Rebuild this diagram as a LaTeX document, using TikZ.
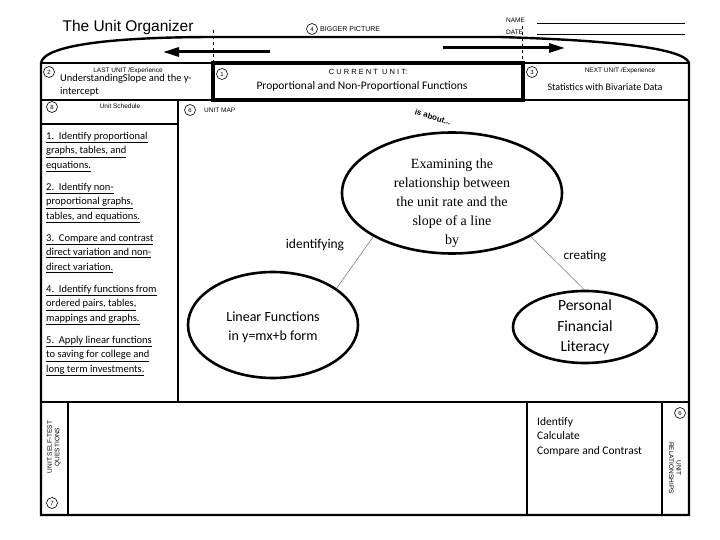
\documentclass[tikz,border=0pt]{standalone}
\usepackage{fontspec}
\setmainfont{Carlito}
\newfontfamily\arialfont{Liberation Sans}
\newfontfamily\serifface{Liberation Serif}
\usetikzlibrary{shapes.geometric,arrows.meta}

\tikzset{
  frame/.style={line width=2.4pt},
  numcirc/.style={circle, draw, line width=0.6pt, inner sep=0pt, minimum size=11pt,
    font=\arialfont\fontsize{6}{6}\selectfont},
  tiny/.style={inner sep=0pt, font=\arialfont\fontsize{6.5}{7.5}\selectfont},
  bubble/.style={ellipse, draw, line width=2.6pt, inner sep=0pt},
  link/.style={draw=black!55, line width=0.5pt},
  bigarrow/.style={line width=3pt, -{Triangle[length=16pt,width=9pt]}}
}

\begin{document}
\begin{tikzpicture}[x=1pt,y=-1pt]
\useasboundingbox (0,0) rectangle (720,540);

% header
\node[font=\arialfont\fontsize{15.5}{18}\selectfont] (title) at (128,27) {The Unit Organizer};
\node[numcirc] (n4) at (312,29) {4};
\node[tiny, anchor=west, font=\arialfont\fontsize{7}{8}\selectfont] (bigger) at (320,29) {BIGGER PICTURE};
\node[tiny, anchor=west] (name) at (506,20) {NAME};
\node[tiny, anchor=west] (date) at (506,32) {DATE};
\draw[line width=0.7pt] (537,23) -- (685,23);
\draw[line width=0.7pt] (537,34) -- (685,34);

% outer frame with curved top
\draw[frame] (41,63) .. controls (44,44) and (120,37) .. (215,37) -- (500,37)
  .. controls (600,40) and (684,47) .. (689,63) -- (689,515) -- (41,515) -- cycle;
\draw[dashed, line width=0.6pt] (213,30) -- (213,63);
\draw[dashed, line width=0.6pt] (522,26) -- (522,63);

\coordinate (lefttail) at (270,52);
\coordinate (lefttip) at (163,52);
\coordinate (righttail) at (443,48);
\coordinate (righttip) at (565,48);
\draw[bigarrow] (lefttail) -- (lefttip);
\draw[bigarrow] (righttail) -- (righttip);

% last / current / next unit
\draw[line width=1.6pt] (41,63) rectangle (213,100);
\draw[line width=1.6pt] (523,63) rectangle (689,100);
\draw[line width=4.5pt] (213,63) rectangle (523,100);

\node[numcirc] (n2) at (49,72) {2};
\node[tiny] (last) at (128,71) {LAST UNIT /Experience};
\node[anchor=west, align=left, inner sep=0pt, font=\fontsize{10.5}{13}\selectfont] (lastunit) at (60,85.5)
  {UnderstandingSlope and the y-\\intercept};

\node[numcirc] (n1) at (222,74) {1};
\node[tiny, font=\arialfont\fontsize{7.5}{8}\selectfont] (current) at (368,72) {C U R R E N T\ \ U N I T:};
\node[font=\fontsize{11.5}{13}\selectfont, inner sep=0pt] (curunit) at (362,86)
  {Proportional and Non-Proportional Functions};

\node[numcirc] (n3) at (532,72) {3};
\node[tiny] (next) at (620,71) {NEXT UNIT /Experience};
\node[font=\fontsize{10}{12}\selectfont, inner sep=0pt] (nextunit) at (605,87)
  {Statistics with Bivariate Data};

% schedule and unit map
\draw[frame] (41,100) rectangle (178,402);
\draw[line width=1.6pt] (41,124) -- (178,124);
\draw[frame] (178,100) rectangle (689,402);

\node[numcirc] (n8) at (52,107) {8};
\node[tiny] (sched) at (120,106) {Unit Schedule};
\node[numcirc] (n6) at (190,110) {6};
\node[tiny, anchor=west] (unitmap) at (204,110) {UNIT MAP};

\node[anchor=north west, align=left, inner sep=0pt, font=\fontsize{10.5}{14.5}\selectfont] (list) at (46,132)
  {\underline{1.\ \ Identify proportional}\\
   \underline{graphs, tables, and}\\
   \underline{equations.}\\[7.5pt]
   \underline{2.\ \ Identify non-}\\
   \underline{proportional graphs,}\\
   \underline{tables, and equations.}\\[7.5pt]
   \underline{3.\ \ Compare and contrast}\\
   \underline{direct variation and non-}\\
   \underline{direct variation.}\\[7.5pt]
   \underline{4.\ \ Identify functions from}\\
   \underline{ordered pairs, tables,}\\
   \underline{mappings and graphs.}\\[7.5pt]
   \underline{5.\ \ Apply linear functions}\\
   \underline{to saving for college and}\\
   \underline{long term investments.}};

% concept map
\node[font=\arialfont\bfseries\fontsize{8}{9}\selectfont, rotate=-17] (about) at (433,117) {is about...};
\node[bubble, minimum width=220pt, minimum height=121pt] (main) at (452,193) {};
\node[align=center, font=\serifface\fontsize{14}{19}\selectfont] (maintext) at (452,203)
  {Examining the\\relationship between\\the unit rate and the\\slope of a line\\by};
\node[bubble, minimum width=170pt, minimum height=106pt] (linear) at (273,325) {};
\node[align=center, font=\fontsize{14}{19}\selectfont] (lineartext) at (273,327.5)
  {Linear Functions\\in y=mx+b form};
\node[bubble, minimum width=144pt, minimum height=72pt] (pers) at (585,327) {};
\node[align=center, font=\fontsize{15.5}{20.5}\selectfont] (perstext) at (585,327)
  {Personal\\Financial\\Literacy};

\draw[link] (main.209) -- (linear.30);
\draw[link] (main.331) -- (pers.91);
\node[font=\fontsize{13.5}{15}\selectfont] (ident) at (315,245) {identifying};
\node[font=\fontsize{13}{15}\selectfont] (creat) at (585,256) {creating};

% self-test and relationships
\draw[frame] (41,402) rectangle (689,515);
\draw[line width=1.6pt] (68,402) -- (68,515);
\draw[frame] (527,402) -- (527,515);
\draw[line width=1.6pt] (662,402) -- (662,515);

\node[tiny, align=center, rotate=90] (selftest) at (54,447) {UNIT SELF-TEST\\QUESTIONS};
\node[numcirc] (n7) at (52,503) {7};
\node[anchor=north west, align=left, inner sep=0pt, font=\fontsize{11.5}{14.5}\selectfont] (verbs) at (537,417)
  {Identify\\Calculate\\Compare and Contrast};
\node[numcirc] (n6b) at (680,413) {6};
\node[tiny, align=center, rotate=-90] (relations) at (675,468) {UNIT\\RELATIONSHIPS};
\end{tikzpicture}
\end{document}
